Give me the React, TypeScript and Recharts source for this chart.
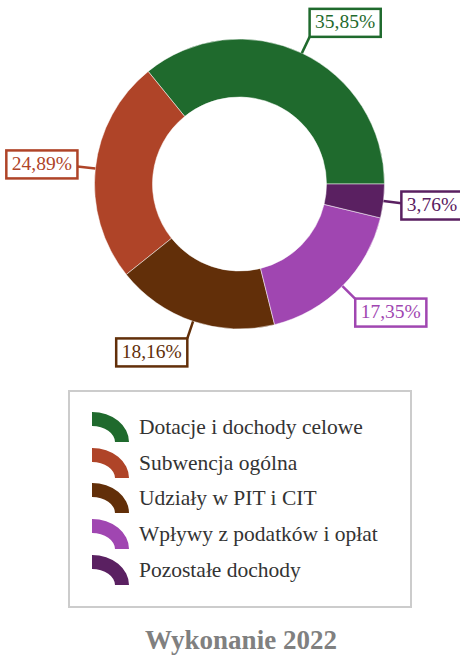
import React from "react";
import { PieChart, Pie, Cell, Legend } from "recharts";

const categories = [
  "Dotacje i dochody celowe",
  "Subwencja ogólna",
  "Udziały w PIT i CIT",
  "Wpływy z podatków i opłat",
  "Pozostałe dochody",
];
const shares = [35.85, 24.89, 18.16, 17.35, 3.76];
const colors = ["#1F6A2D", "#AF4428", "#622F09", "#A046B1", "#5A2061"];
const title = "Wykonanie 2022";

const data = categories.map((name, i) => ({ name, value: shares[i] }));

const RAD = Math.PI / 180;
const FONT = "'Liberation Serif', 'Times New Roman', serif";

const fmt = (v: number) => v.toFixed(2).replace(".", ",") + "%";

const renderLabel = (props: any) => {
  const { cx, cy, midAngle, outerRadius, index, value } = props;
  const color = colors[index];
  const cos = Math.cos(-midAngle * RAD);
  const sin = Math.sin(-midAngle * RAD);
  const x1 = cx + outerRadius * cos;
  const y1 = cy + outerRadius * sin;
  const x2 = cx + (outerRadius + 18) * cos;
  const y2 = cy + (outerRadius + 18) * sin;
  const txt = fmt(value);
  const fs = 19.5;
  const digits = txt.replace(/[^0-9]/g, "").length;
  const w = digits * 0.5 * fs + 0.25 * fs + 0.833 * fs + 11;
  const h = 28;
  const bx = cos >= 0 ? x2 : x2 - w;
  const vshift = Math.min(1, Math.abs(sin) * 1.4) * (sin < 0 ? -1 : 1);
  const by = y2 - h / 2 + vshift * (h / 2);
  return (
    <g>
      <line x1={x1} y1={y1} x2={x2} y2={y2} stroke={color} strokeWidth={2.5} />
      <rect x={bx} y={by} width={w} height={h} fill="#fff" stroke={color} strokeWidth={2.5} />
      <text
        x={bx + w / 2}
        y={by + h / 2 + 1}
        textAnchor="middle"
        dominantBaseline="middle"
        fill={color}
        fontSize={fs}
        fontFamily={FONT}
      >
        {txt}
      </text>
    </g>
  );
};

const LegendIcon = ({ color }: { color: string }) => (
  <svg width={37} height={30} style={{ display: "block" }}>
    <path d="M0,0 A37,30 0 0 1 37,30 L23,30 A23,16 0 0 0 0,14 Z" fill={color} />
  </svg>
);

const renderLegend = () => (
  <div
    style={{
      boxSizing: "border-box",
      width: 344,
      height: 218,
      border: "2px solid #cccccc",
      background: "#fff",
      padding: "17px 0 0 22px",
      fontFamily: FONT,
    }}
  >
    {categories.map((name, i) => (
      <div key={name} style={{ display: "flex", alignItems: "center", height: 35.8 }}>
        <LegendIcon color={colors[i]} />
        <span style={{ marginLeft: 10, fontSize: 21.5, color: "#333", lineHeight: "24px" }}>{name}</span>
      </div>
    ))}
  </div>
);

export default function App() {
  return (
    <div style={{ position: "absolute", left: 0, top: 0, width: 460, height: 660, background: "#fff" }}>
      <PieChart width={460} height={660} margin={{ top: 0, right: 0, bottom: 0, left: 0 }}>
        <Pie
          data={data}
          dataKey="value"
          nameKey="name"
          cx={239.5}
          cy={184}
          outerRadius={145}
          innerRadius={87}
          startAngle={0}
          endAngle={360}
          stroke="#ffffff"
          strokeOpacity={0.5}
          strokeWidth={1}
          label={renderLabel}
          labelLine={false}
          isAnimationActive={false}
        >
          {data.map((d, i) => (
            <Cell key={d.name} fill={colors[i]} />
          ))}
        </Pie>
        <Legend
          content={renderLegend}
          wrapperStyle={{ position: "absolute", left: 68, top: 390, width: 344, height: 218 }}
        />
      </PieChart>
      <div
        style={{
          position: "absolute",
          left: 0,
          width: 482,
          top: 624,
          textAlign: "center",
          fontFamily: FONT,
          fontWeight: "bold",
          fontSize: 27,
          lineHeight: "32px",
          color: "#808080",
        }}
      >
        {title}
      </div>
    </div>
  );
}
